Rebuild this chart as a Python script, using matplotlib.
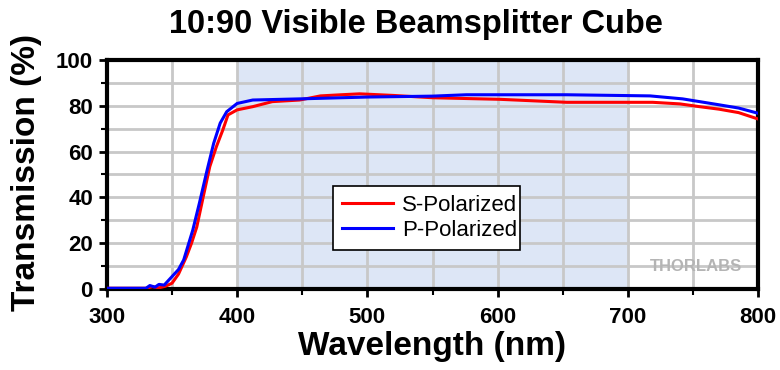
import numpy as np
import matplotlib
matplotlib.use('Agg')
import matplotlib.pyplot as plt
from matplotlib.ticker import MultipleLocator

plt.rcParams['font.family'] = ['Liberation Sans', 'DejaVu Sans']

# S-polarized (red)
s_wl = [300, 330, 335, 340, 345, 350, 355, 361, 365, 369, 374, 379, 384, 389, 393, 400,
        412, 427, 448, 464, 480, 494, 520, 550, 602, 653, 719, 740, 755, 770, 785, 800]
s_tr = [0.3, 0.3, 1.0, 0.5, 1.2, 2.5, 6.5, 14.0, 20.0, 27.0, 40.3, 53.4, 62.0, 69.4, 76.0, 78.2,
        79.6, 81.8, 82.5, 84.3, 84.8, 85.2, 84.5, 83.5, 82.8, 81.5, 81.5, 80.8, 79.6, 78.5, 77.0, 74.2]

# P-polarized (blue)
p_wl = [300, 330, 333, 337, 340, 344, 350, 355, 359, 366, 371, 377, 382, 387, 392, 400,
        412, 448, 500, 550, 576, 615, 653, 717, 742, 768, 785, 800]
p_tr = [0.3, 0.3, 1.5, 0.8, 2.0, 1.7, 5.4, 8.5, 12.7, 25.8, 37.4, 52.0, 63.6, 72.4, 77.4, 81.0,
        82.5, 83.0, 83.8, 84.2, 84.8, 84.8, 84.8, 84.3, 83.0, 80.6, 79.0, 76.7]

band = (400, 700)
x_ticks = [300, 400, 500, 600, 700, 800]
y_ticks = [0, 20, 40, 60, 80, 100]

fig = plt.figure(figsize=(7.8, 3.7), dpi=100)
ax = fig.add_axes([0.137, 0.219, 0.835, 0.619])

ax.axvspan(band[0], band[1], color='#dde6f6', zorder=0)
ax.plot(s_wl, s_tr, color='#ff0000', lw=2.2, label='S-Polarized', zorder=3)
ax.plot(p_wl, p_tr, color='#0000ff', lw=2.2, label='P-Polarized', zorder=3)

ax.set_xlim(300, 800)
ax.set_ylim(0, 100)
ax.set_xticks(x_ticks)
ax.set_yticks(y_ticks)
ax.xaxis.set_minor_locator(MultipleLocator(50))
ax.yaxis.set_minor_locator(MultipleLocator(10))
ax.grid(True, which='both', color='#c8c8c8', lw=2, zorder=1)
ax.set_axisbelow(True)

for sp in ax.spines.values():
    sp.set_linewidth(3)
ax.tick_params(which='major', length=6, width=2, direction='out', labelsize=16)
ax.tick_params(axis='x', which='major', pad=7)
ax.tick_params(axis='y', which='major', pad=4)
ax.tick_params(which='minor', length=4, width=1.5, direction='out')
for lab in ax.get_xticklabels() + ax.get_yticklabels():
    lab.set_fontweight('bold')

ax.set_xlabel('Wavelength (nm)', fontsize=24, fontweight='bold')
ax.set_ylabel('Transmission (%)', fontsize=24, fontweight='bold')
ax.xaxis.set_label_coords(0.499, -0.183)
ax.yaxis.set_label_coords(-0.1, 0.51)
fig.suptitle('10:90 Visible Beamsplitter Cube', fontsize=23.5, fontweight='bold', x=0.533, y=0.976)

leg = ax.legend(loc='lower left', bbox_to_anchor=(0.347, 0.17, 0.287, 0.26), mode='expand',
                fontsize=16, frameon=True, fancybox=False, framealpha=1, edgecolor='black',
                handlelength=2.3, handletextpad=0.4, borderaxespad=0, labelspacing=0.2)
leg.get_frame().set_linewidth(1.2)

ax.text(0.905, 0.1, 'THORLABS', transform=ax.transAxes, ha='center', va='center',
        fontsize=12, fontweight='bold', color='#b4b4b4')

fig.savefig('out.png', dpi=100)
